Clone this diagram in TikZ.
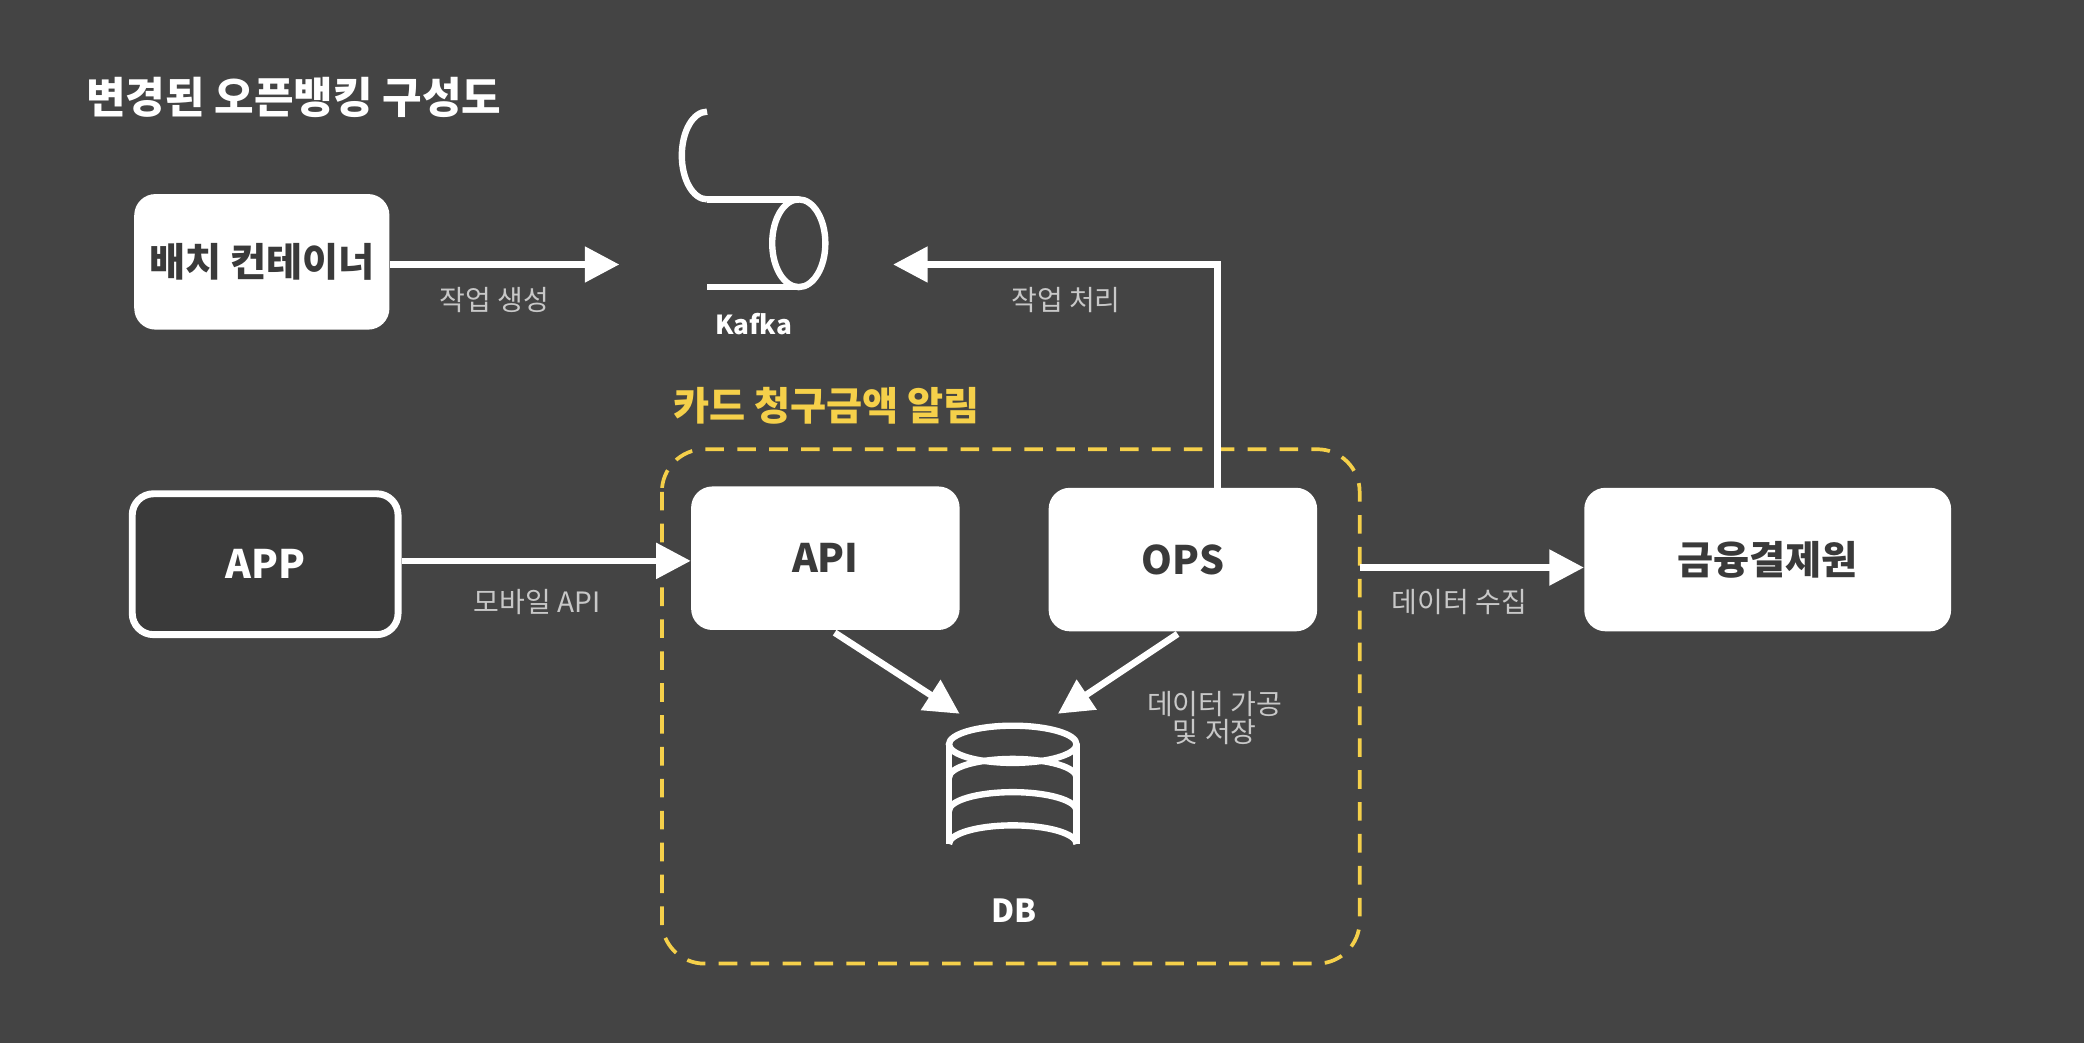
\documentclass[tikz,border=0pt]{standalone}
\usepackage{fontspec}
\setmainfont{Noto Sans CJK KR}
\usetikzlibrary{arrows.meta}
\definecolor{bg}{HTML}{444444}
\definecolor{dk}{HTML}{3A3A3A}
\definecolor{yl}{HTML}{F5D04A}
\definecolor{gr}{HTML}{C8C8C8}
\begin{document}
\begin{tikzpicture}[x=0.25mm,y=-0.25mm,
 box/.style={fill=white,rounded corners=4mm,text=dk,font=\fontsize{21}{24}\selectfont\bfseries,inner sep=0},
 arr/.style={draw=white,line width=1.25mm,-{Triangle[length=6.5mm,width=6.5mm]}},
 lbl/.style={text=gr,font=\fontsize{15}{18}\selectfont},
 ic/.style={draw=white,line width=1.2mm}]
\fill[bg] (0,0) rectangle (1568,785);
\useasboundingbox (0,0) rectangle (1568,785);
\node[anchor=west,text=white,font=\fontsize{23}{26}\selectfont\bfseries] (title) at (60,73) {변경된 오픈뱅킹 구성도};
\node[box,minimum width=48mm,minimum height=25.5mm] (batch) at (197,197) {배치 컨테이너};
% Kafka
\coordinate (kin) at (466,199);
\coordinate (kout) at (672,199);
\draw[ic] (532,150) -- (601,150) (532,216) -- (601,216);
\draw[ic] (532,150) arc[start angle=90,end angle=270,x radius=19,y radius=33];
\draw[ic] (601,183) ellipse[x radius=20,y radius=33];
\node[text=white,font=\fontsize{14}{16}\selectfont\bfseries] (kafka) at (567,244) {Kafka};
\draw[arr] (batch.east|-kin) -- (kin);
\node[lbl] (l1) at (372,226) {작업 생성};
% group
\node[text=yl,font=\fontsize{21}{24}\selectfont\bfseries] (gl) at (622,305) {카드 청구금액 알림};
\draw[yl,line width=0.7mm,dash pattern=on 3.5mm off 2.5mm,rounded corners=8mm] (498,338) rectangle (1023,725);
\node[draw=white,line width=1.3mm,fill=dk,rounded corners=4mm,minimum width=50mm,minimum height=26.5mm,text=white,font=\fontsize{21}{24}\selectfont\bfseries] (app) at (199.5,424.5) {APP};
\node[box,minimum width=50.5mm,minimum height=27mm] (api) at (621,420) {API};
\node[box,minimum width=50.5mm,minimum height=27mm] (ops) at (890,421) {OPS};
\node[box,minimum width=69mm,minimum height=27mm] (kftc) at (1330,421) {금융결제원};
\draw[arr] (app.east|-0,422) -- (api.west|-0,422);
\node[lbl] (l2) at (404,453) {모바일 API};
\draw[arr] (916,367) -- (916,199) -- (kout);
\node[lbl] (l3) at (802,226) {작업 처리};
\coordinate (gr) at (1023,427);
\draw[arr] (gr) -- (kftc.west|-gr);
\node[lbl] (l4) at (1098,453) {데이터 수집};
% DB
\coordinate (dba) at (722,537);
\coordinate (dbb) at (796,537);
\draw[arr] (628,476) -- (dba);
\draw[arr] (886,477) -- (dbb);
\node[lbl,align=center] (l5) at (914,540) {데이터 가공\\[-1mm]및 저장};
\draw[ic] (762,560) ellipse[x radius=48,y radius=14];
\draw[ic] (714,560) -- (714,635) (810,560) -- (810,635);
\foreach \yy in {585,610,635}
 \draw[ic] (714,\yy) arc[start angle=180,end angle=360,x radius=48,y radius=14];
\node[text=white,font=\fontsize{17}{20}\selectfont\bfseries] (db) at (763,685) {DB};
\end{tikzpicture}
\end{document}
